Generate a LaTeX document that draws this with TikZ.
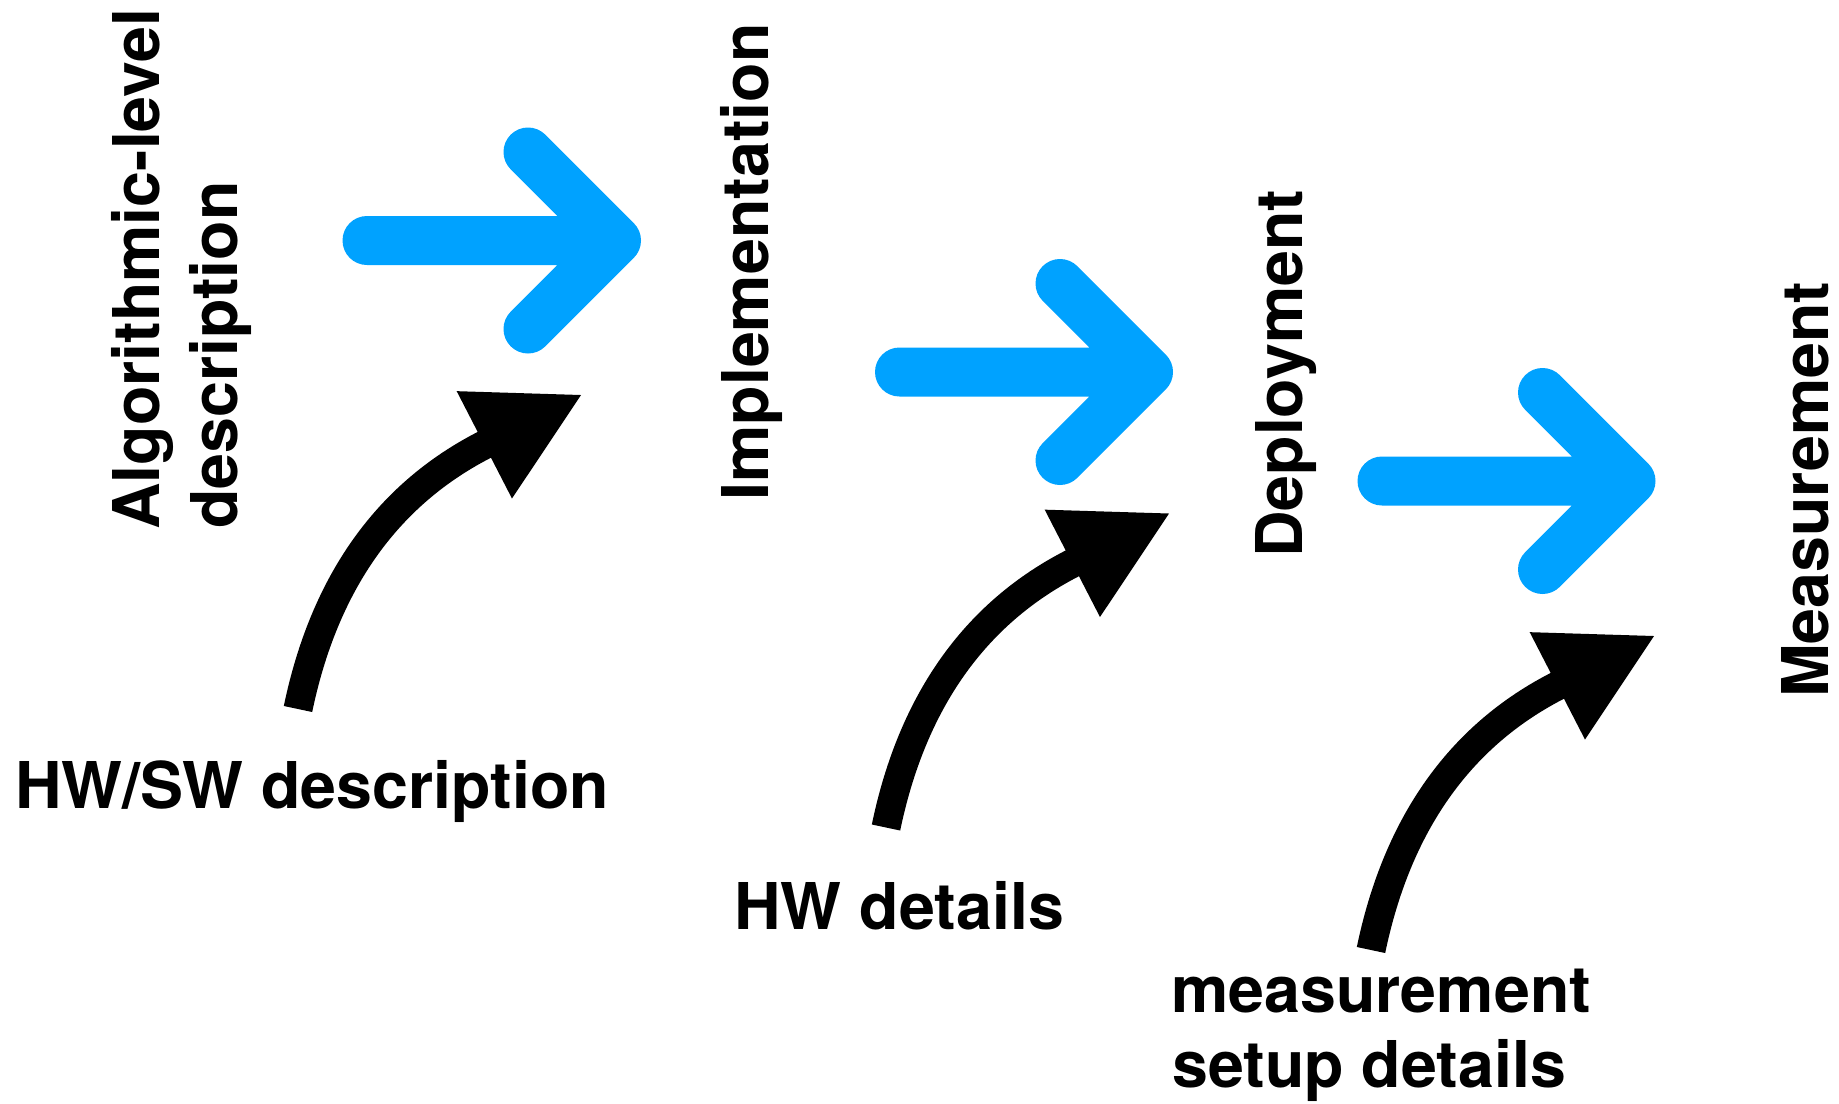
\documentclass[tikz,border=0pt]{standalone}
\usepackage{fontspec}
\setmainfont{TeX Gyre Heros}
\usetikzlibrary{arrows.meta}

\definecolor{keyblue}{RGB}{0,162,255}

\tikzset{
  lbl/.style={font=\bfseries\fontsize{64.5}{76}\selectfont, inner sep=0pt, anchor=base west},
  vlbl/.style={lbl, rotate=90},
  stagearrow/.style={draw=keyblue, line width=49pt, line cap=round, line join=round},
  inputarrow/.style={draw=black, line width=29pt, -{Triangle[length=111pt,width=112pt]}}
}

\begin{document}
\begin{tikzpicture}[x=1pt, y=-1pt]
  % canvas
  \fill[white] (0,0) rectangle (1839,1103);
  \useasboundingbox (0,0) rectangle (1839,1103);

  % stage labels (vertical)
  \node[vlbl] (alg1) at (159.5,530) {Algorithmic-level};
  \node[vlbl] (alg2) at (237,529) {description};
  \node[vlbl] (impl) at (768,501) {Implementation};
  \node[vlbl] (depl) at (1302,558) {Deployment};
  \node[vlbl] (meas) at (1828,698) {Measurement};

  % input labels
  \node[lbl] (hwsw)  at (15,808)   {HW/SW description};
  \node[lbl] (hwdet) at (734,929)  {HW details};
  \node[lbl] (msu1)  at (1171,1012) {measurement};
  \node[lbl] (msu2)  at (1172,1087) {setup details};

  % blue stage arrows: shaft start, tip vertex, upper and lower arm ends
  \coordinate (s1) at (367,240.5);   \coordinate (v1) at (616.5,240.5);
  \coordinate (u1) at (528,152);     \coordinate (l1) at (528,329);
  \coordinate (s2) at (899.5,372);   \coordinate (v2) at (1148.5,372);
  \coordinate (u2) at (1060,283.5);  \coordinate (l2) at (1060,460.5);
  \coordinate (s3) at (1382,481);    \coordinate (v3) at (1631,481);
  \coordinate (u3) at (1542.5,392.5);\coordinate (l3) at (1542.5,569.5);

  \draw[stagearrow] (s1) -- (v1) (u1) -- (v1) -- (l1);
  \draw[stagearrow] (s2) -- (v2) (u2) -- (v2) -- (l2);
  \draw[stagearrow] (s3) -- (v3) (u3) -- (v3) -- (l3);

  % black curved input arrows: tail, bend controls, head base, head tip
  \foreach \n/\dx/\dy in {1/0/0, 2/588/118.5, 3/1073/241}{
    \begin{scope}[shift={(\dx,\dy)}]
      \coordinate (t\n)  at (298,709);
      \coordinate (ca\n) at (322,593.5);
      \coordinate (cb\n) at (379,499);
      \coordinate (b\n)  at (484,445);
      \coordinate (h\n)  at (583,394);
    \end{scope}
  }
  \draw[inputarrow] (t1) .. controls (ca1) and (cb1) .. (b1) -- (h1);
  \draw[inputarrow] (t2) .. controls (ca2) and (cb2) .. (b2) -- (h2);
  \draw[inputarrow] (t3) .. controls (ca3) and (cb3) .. (b3) -- (h3);
\end{tikzpicture}
\end{document}
